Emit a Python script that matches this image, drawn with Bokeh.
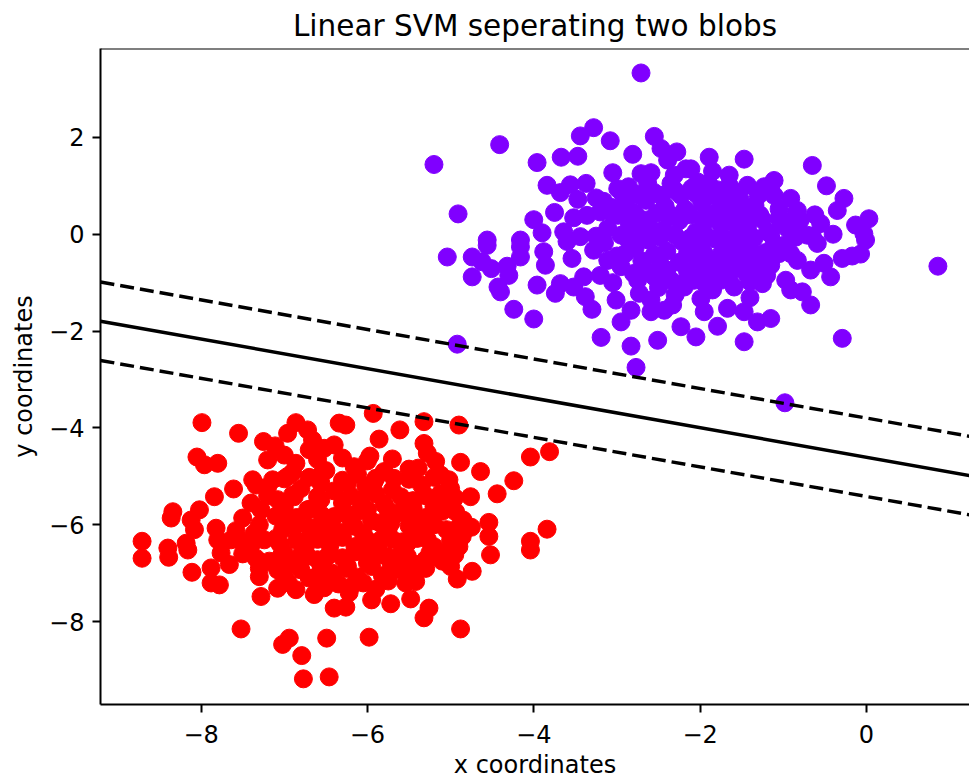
from bokeh.plotting import figure
from bokeh.models import Range1d, FixedTicker, Span, ColumnDataSource
from bokeh.embed import file_html
from bokeh.resources import INLINE

# ---------------- data ----------------
purple_x = [-2.71, -4.41, -5.20, -4.91, -3.28, -3.44, -3.08, -2.55, -3.96, -3.67, -3.47, -2.81, -2.47, -2.28, -2.39,
            -3.05, -2.71, -2.59, -2.31, -2.17, -3.84, -3.68, -3.56, -3.37, -3.47, -3.16, -2.99, -2.86, -2.63, -3.52,
            -3.36, -3.20, -2.99, -2.80, -2.71, -3.90, -3.64, -3.44, -3.11, -2.95, -2.55, -2.39, -2.23, -2.47, -4.56,
            -4.16,
            -4.56, -5.04, -4.74, -4.62, -4.51, -4.32, -4.16, -4.16, -3.88, -3.86, -3.54, -4.74, -4.43, -4.40, -3.96,
            -3.74, -3.68, -3.52, -3.40, -3.38, -4.24, -4.00, -4.92, -3.01, -2.83, -2.95, -2.73, -2.59, -2.59, -2.43,
            -2.33, -3.19, -2.83, -2.51, -2.77, -2.23, -3.28, -3.11, -2.95, -2.80, -2.55, -2.35, -2.19,
            -1.89, -1.85, -1.47, -0.65, -0.48, -0.27, -0.35, -0.55, -0.71, 0.03, -0.13, -0.03, -1.65, -1.43, -1.11,
            -1.23, -0.91, -0.83, -2.11, -2.03, -1.87, -1.71, -1.59, -1.31, -1.11, -1.03, -1.19, -1.95, -1.75, -1.43,
            0.86, -0.29, -0.98, -1.47, -2.05, -1.79, -1.95, -1.99, -1.67, -1.40, -1.31, -1.15, -1.47, -0.67, -0.77,
            -0.91, -0.97, -0.43, -0.51, -0.67, -0.83, -0.91, -0.29, -0.17, -0.07, -0.59, -0.01, -1.11, -1.91, -1.75,
            -1.51, -1.35, -1.15, -1.59, -2.07, -1.71,
            -2.90, -2.65, -2.42, -2.18, -1.98, -1.78, -1.52, -1.34, -1.05,
            -2.85, -2.62, -2.44, -2.25, -2.05, -1.86, -1.62, -1.50, -1.25, -0.95, -0.80,
            -3.15, -2.78, -2.62, -2.40, -2.22, -2.00, -1.82, -1.58, -1.40, -1.22, -0.98,
            -3.00, -2.70, -2.48, -2.25, -2.05, -1.88, -1.62, -1.38, -1.20,
            -3.25, -3.05, -2.10, -1.90, -1.65, -2.35, -2.75, -2.50, -2.30, -1.85, -1.65, -3.20, -3.30, -3.60, -3.75,
            -4.00, -4.30,
            -2.95, -2.75, -2.55, -2.30, -2.05, -1.80, -1.55, -1.30,
            -3.05, -2.75, -2.52, -2.32, -2.12, -1.92, -1.72, -1.48, -1.28, -1.05, -0.85, -0.62,
            -3.25, -2.88, -2.68, -2.48, -2.30, -2.12, -1.95, -1.72, -1.55, -1.35, -1.15, -0.85, -0.65, -0.40,
            -2.90, -2.55, -2.15, -1.95, -1.75, -1.48, -1.28, -1.05,
            -2.65, -2.40, -2.15, -1.95, -1.72, -1.45, -1.30,
            -3.05, -2.20, -1.95, -1.40, -1.25]
purple_y = [3.33, 1.85, 1.44, 0.42, 2.20, 2.03, 1.93, 2.02, 1.48, 1.59, 1.61, 1.65, 1.77, 1.70, 1.53,
            1.27, 1.25, 1.27, 1.22, 1.35, 1.01, 0.86, 1.02, 1.05, 0.72, 0.68, 0.94, 0.98, 1.05, 0.34,
            0.39, 0.46, 0.39, 0.46, 0.25, 0.03, 0.05, -0.05, 0.12, -0.02, 0.05, 0.39, 0.80, 0.80, -0.12,
            -0.12,
            -0.23, -0.47, -0.47, -0.57, -0.71, -0.66, -0.26, -0.47, -0.36, -0.64, -0.50, -0.88, -1.09, -1.19, -1.05,
            -1.22, -1.02, -1.09, -0.88, -1.29, -1.55, -1.75, -2.27, -1.36, -1.57, -1.81, -1.22, -1.36, -1.60, -1.57,
            -1.46, -2.13, -2.31, -2.19, -2.75, -1.91, -0.33, -0.54, -0.67, -0.81, -0.88, -0.95, -1.09,
            1.59, 1.30, 1.55, 1.42, 1.00, 0.74, 0.49, 0.22, -0.02, 0.32, 0.19, 0.01, 1.01, 1.01, 1.11,
            0.98, 0.74, 0.49, 1.35, 1.08, 0.80, 0.74, 0.46, 0.39, 0.80, 0.25, 0.05, 0.25, 0.19, 0.12,
            -0.66, -2.15, -3.48, -2.22, -2.12, -1.90, -1.60, -1.33, -1.53, -1.31, -1.81, -1.74, -1.60, -1.46, -1.19,
            -1.15, -0.95, -0.88, -0.60, -0.74, -0.54, -0.40, -0.50, -0.45, -0.41, -0.19, -0.12, -0.19, -0.81, -0.95,
            -0.67, -0.40, -0.64, -1.09, -0.95, -0.33,
            0.62, 0.70, 0.58, 0.52, 0.66, 0.48, 0.72, 0.60, 0.52,
            0.18, 0.30, 0.10, 0.28, 0.05, 0.34, 0.26, -0.02, 0.30, 0.12, 0.28,
            -0.18, -0.28, -0.12, -0.35, -0.15, -0.22, -0.10, -0.28, -0.12, -0.38, -0.22,
            -0.45, -0.55, -0.62, -0.58, -0.50, -0.55, -0.48, -0.62, -0.85,
            0.75, 0.55, 0.95, 1.05, 1.22, 1.05, -0.95, -1.10, -1.25, -1.15, -0.85, -0.85, -1.55, -0.15, 0.45,
            0.30, -0.85,
            0.88, 0.82, 0.86, 0.90, 0.84, 0.92, 0.86, 0.80,
            0.42, 0.36, 0.44, 0.38, 0.40, 0.44, 0.36, 0.42, 0.40, 0.34, 0.42, 0.40,
            -0.04, -0.08, 0.00, -0.06, -0.02, -0.08, 0.02, -0.06, -0.02, -0.08, 0.00, -0.06, -0.04, 0.00,
            -0.40, -0.42, -0.38, -0.40, -0.42, -0.38, -0.44, -0.40,
            -0.76, -0.74, -0.78, -0.72, -0.76, -0.80, -0.72,
            -1.00, -1.02, -1.00, -0.98, -1.02]

red_x = [-7.99, -7.55, -8.05, -7.96, -7.80, -7.25, -7.11, -6.96, -6.86, -6.72, -6.66, -6.70, -6.52, -6.40, -6.34,
         -7.20, -7.00, -6.86, -7.38, -7.34, -7.61, -7.84, -7.14, -6.96, -6.56, -6.56, -8.34, -8.36, -8.02, -8.12,
         -8.08, -8.71, -8.18, -7.82, -7.80, -7.50, -7.40, -7.28, -7.36, -7.24, -7.08, -6.88, -6.72, -6.88, -6.56,
         -6.40, -6.48, -6.72, -7.64, -8.40,
         -6.26, -5.93, -5.61, -5.32, -4.90, -5.86, -5.97, -5.32, -5.28, -5.18, -5.39, -4.88, -4.64, -4.04, -3.81,
         -4.24, -4.44, -4.76, -5.02, -5.12, -4.94, -5.20, -4.54, -4.54, -4.86, -3.84, -4.04, -5.52, -5.68, -5.92,
         -6.16, -6.24, -5.44, -5.28, -5.72, -6.00, -6.16, -5.84, -5.52, -5.20, -5.12,
         -8.71, -8.39, -8.11, -7.88, -7.88, -7.78, -7.66, -8.16, -7.34, -7.30, -7.28, -7.08, -6.86, -6.64, -7.08,
         -6.80, -6.56, -6.40, -7.52, -7.02, -6.94, -6.79, -6.49, -6.77, -6.46, -7.04, -6.72, -6.48, -7.76,
         -4.52, -4.04, -4.74, -4.92, -4.88, -5.26, -5.32, -5.48, -5.42, -5.54, -5.72, -5.90, -6.20, -6.26, -5.98,
         -5.30, -5.12, -5.52, -5.76, -6.00, -6.24, -5.68, -5.00,
         -6.90, -6.50, -6.12, -5.80, -5.50,
         -7.20, -6.80, -6.40, -6.02, -5.70, -5.35, -5.00,
         -7.00, -6.30, -6.08, -5.80, -5.45, -5.05,
         -7.10, -6.85, -6.55, -6.25, -5.95, -5.62, -5.30, -4.85,
         -7.58, -7.02, -6.70, -6.38, -6.05, -5.75, -5.40, -5.05, -4.75,
         -7.40, -7.05, -6.75, -6.45, -6.15, -5.88, -5.58, -5.28, -4.90,
         -7.18, -6.90, -6.60, -6.30, -6.02, -5.72, -5.40, -5.10,
         -7.00, -6.70, -6.42, -6.12, -5.82, -5.50,
         -6.52, -6.22, -5.95,
         -6.60, -6.30, -6.00, -5.70,
         -7.00, -6.70, -6.30, -5.90, -5.50, -5.20,
         -7.20, -6.90, -6.60, -6.20, -5.90, -5.60, -5.30, -4.95,
         -7.00, -6.70, -6.10, -5.75, -5.45, -5.10,
         -7.30, -6.95, -6.55, -6.20, -5.85, -5.50, -5.20, -4.90,
         -7.55, -7.10, -6.85, -6.60, -6.30, -6.00, -5.70, -5.40, -5.00,
         -7.50, -7.00, -6.80, -6.45, -6.15, -5.85, -5.60, -5.25, -4.95,
         -7.30, -7.00, -6.55, -6.25, -5.95, -5.60, -5.30,
         -6.95, -6.60, -6.35, -6.05, -5.75]
red_y = [-3.89, -4.11, -4.60, -4.76, -4.73, -4.28, -4.37, -4.11, -3.89, -4.04, -4.25, -4.45, -4.42, -4.35, -3.90,
         -4.66, -4.56, -4.73, -5.07, -5.18, -5.26, -5.42, -5.07, -5.00, -4.97, -5.14, -5.73, -5.86, -5.69, -5.90,
         -6.10, -6.34, -6.38, -6.07, -6.31, -5.86, -5.55, -5.69, -6.17, -6.31, -5.48, -5.42, -5.69, -6.03, -5.48,
         -5.83, -6.17, -6.31, -6.31, -6.48,
         -3.94, -3.70, -4.04, -3.87, -3.94, -4.23, -4.58, -4.32, -4.52, -4.69, -4.83, -4.71, -4.90, -4.60, -4.49,
         -5.09, -5.36, -5.42, -5.07, -5.35, -5.73, -5.62, -5.95, -6.24, -6.24, -6.09, -6.34, -5.52, -5.04, -5.11,
         -4.80, -5.14, -5.83, -6.03, -5.97, -5.69, -6.03, -6.31, -6.38, -6.45, -4.97,
         -6.69, -6.67, -6.98, -6.89, -7.20, -7.24, -6.82, -6.52, -6.69, -7.07, -7.48, -7.31, -7.34, -7.44, -6.93,
         -6.93, -6.93, -7.72, -8.15, -8.47, -8.34, -8.70, -8.34, -9.18, -9.14, -6.65, -6.65, -6.65, -6.58,
         -6.62, -6.52, -6.96, -7.12, -8.15, -7.72, -7.92, -7.53, -7.17, -7.20, -7.63, -7.33, -7.28, -7.70, -8.32,
         -6.72, -6.58, -6.65, -6.65, -6.79, -6.86, -6.93, -6.86,
         -4.92, -4.88, -4.95, -4.90, -4.85,
         -5.22, -5.25, -5.30, -5.20, -5.28, -5.18, -5.25,
         -5.62, -5.55, -5.48, -5.58, -5.50, -5.55,
         -5.82, -5.85, -5.80, -5.78, -5.92, -5.75, -5.85, -5.90,
         -6.12, -6.10, -6.05, -6.12, -6.18, -6.08, -6.15, -6.10, -6.05,
         -6.42, -6.40, -6.48, -6.42, -6.45, -6.50, -6.35, -6.30, -6.45,
         -6.75, -6.78, -6.72, -6.68, -6.60, -6.78, -6.82, -6.75,
         -7.05, -7.10, -7.00, -7.08, -7.05, -6.98,
         -7.30, -7.40, -7.55,
         -4.65, -4.62, -4.68, -4.64,
         -5.05, -5.02, -5.08, -5.04, -5.06, -5.02,
         -5.40, -5.38, -5.42, -5.40, -5.36, -5.42, -5.40, -5.44,
         -5.70, -5.68, -5.72, -5.70, -5.66, -5.72,
         -6.00, -5.98, -6.02, -6.00, -5.96, -6.02, -6.00, -6.04,
         -6.30, -6.28, -6.32, -6.30, -6.26, -6.32, -6.30, -6.28, -6.32,
         -6.60, -6.58, -6.62, -6.60, -6.56, -6.62, -6.60, -6.58, -6.62,
         -6.90, -6.88, -6.92, -6.90, -6.86, -6.92, -6.90,
         -7.20, -7.18, -7.22, -7.20, -7.16]

# fitted linear SVM: y = slope * x + intercept, margin half-width (vertical)
svm_slope = -0.305
svm_intercept = -4.605
svm_margin = 0.81
line_x = [-9.21, 1.24]

x_limits = (-9.21, 1.24)
y_limits = (-9.71, 3.835)
x_ticks = [-8, -6, -4, -2, 0]
x_tick_labels = ["\u22128", "\u22126", "\u22124", "\u22122", "0"]
y_ticks = [-8, -6, -4, -2, 0, 2]
y_tick_labels = ["\u22128", "\u22126", "\u22124", "\u22122", "0", "2"]

PURPLE = "#8000ff"
RED = "#ff0000"
FONT = "DejaVu Sans"

# ---------------- figure ----------------
p = figure(width=969, height=781, output_backend="svg", toolbar_location=None,
           x_range=Range1d(*x_limits), y_range=Range1d(*y_limits),
           min_border_left=100, min_border_right=0, min_border_top=48, min_border_bottom=76)
p.title.text = "Linear SVM seperating two blobs"
p.title.align = "center"
p.title.offset = 4
p.title.text_font = FONT
p.title.text_font_size = "29.5px"
p.title.text_font_style = "normal"
p.title.text_color = "black"
p.title.standoff = 12
p.outline_line_color = None
p.xgrid.visible = False
p.ygrid.visible = False
p.background_fill_color = "white"
p.border_fill_color = "white"

for ax, ticks, labels in ((p.xaxis[0], x_ticks, x_tick_labels), (p.yaxis[0], y_ticks, y_tick_labels)):
    ax.ticker = FixedTicker(ticks=ticks)
    ax.major_label_overrides = {t: l for t, l in zip(ticks, labels)}
    ax.major_label_text_font = FONT
    ax.major_label_text_font_size = "24px"
    ax.major_label_text_color = "black"
    ax.axis_label_text_font = FONT
    ax.axis_label_text_font_size = "24px"
    ax.axis_label_text_font_style = "normal"
    ax.axis_label_text_color = "black"
    ax.axis_line_color = "black"
    ax.axis_line_width = 2
    ax.major_tick_line_color = "black"
    ax.major_tick_line_width = 2
    ax.major_tick_in = 0
    ax.major_tick_out = 8
    ax.minor_tick_line_color = None
    ax.major_label_standoff = 8

p.xaxis.axis_label = "x coordinates"
p.yaxis.axis_label = "y coordinates"
p.xaxis.major_label_standoff = 12
p.xaxis.axis_label_standoff = 5
p.yaxis.axis_label_standoff = 8

p.add_layout(Span(location=y_limits[1], dimension="width", line_color="black", line_width=2))

p.scatter(purple_x, purple_y, size=18, fill_color=PURPLE, line_color=PURPLE)
p.scatter(red_x, red_y, size=18, fill_color=RED, line_color=RED)

line_y = [svm_slope * x + svm_intercept for x in line_x]
src = ColumnDataSource(dict(x=line_x, y=line_y,
                            up=[v + svm_margin for v in line_y],
                            lo=[v - svm_margin for v in line_y]))
p.line("x", "y", source=src, line_color="black", line_width=3.5)
p.line("x", "up", source=src, line_color="black", line_width=3.5, line_dash="14 6")
p.line("x", "lo", source=src, line_color="black", line_width=3.5, line_dash="14 6")

open("out.html", "w").write(file_html(p, INLINE))
